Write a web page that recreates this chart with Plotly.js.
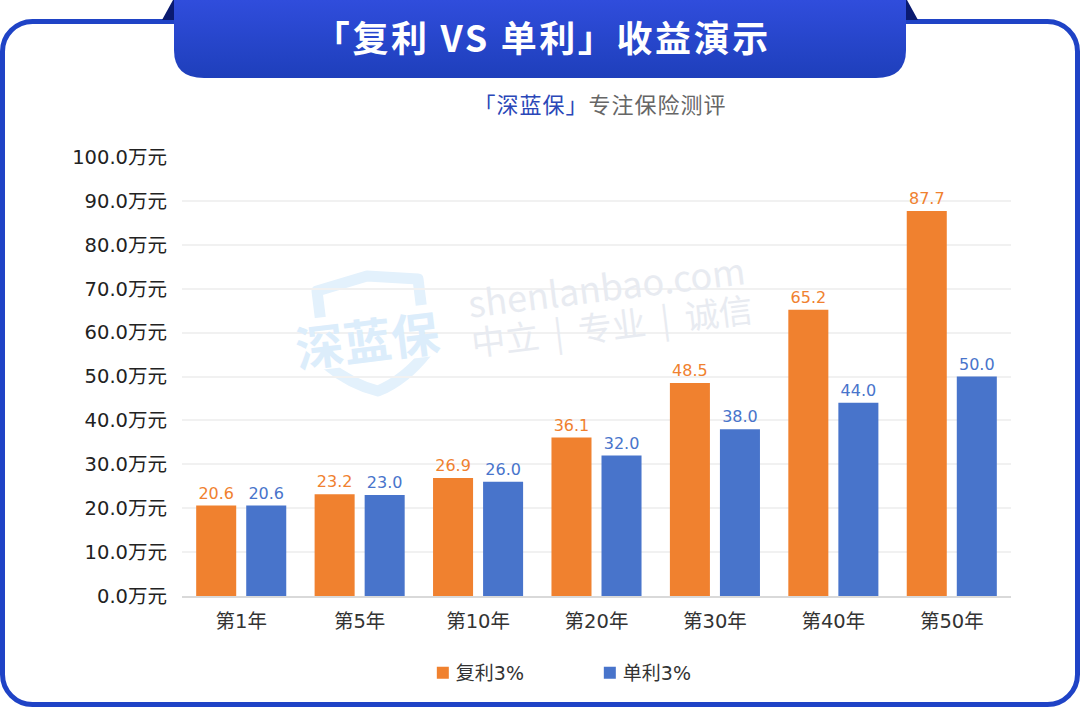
<!DOCTYPE html>
<html><head><meta charset="utf-8">
<script src="https://cdn.plot.ly/plotly-3.0.1.min.js"></script>
<style>html,body{margin:0;padding:0;background:#fff}#c{width:1080px;height:708px}
.annotation[data-index="0"] text{letter-spacing:2.6px}
.annotation[data-index="1"] text{letter-spacing:1px}
.legendtext{transform:translateX(-7px)}
</style></head>
<body><div id="c"></div>
<script>
const categories = ['第1年','第5年','第10年','第20年','第30年','第40年','第50年'];
const compound = [20.6,23.2,26.9,36.1,48.5,65.2,87.7];
const simple = [20.6,23.0,26.0,32.0,38.0,44.0,50.0];
const seriesNames = ['复利3%','单利3%'];
const FONT = '"Noto Sans CJK SC","Noto Sans",sans-serif';
const LAT = '"DejaVu Sans","Noto Sans CJK SC",sans-serif';
const ORANGE = '#f0812f', BLUE = '#4874cb';

const bg = `<svg xmlns="http://www.w3.org/2000/svg" width="1080" height="708" viewBox="0 0 1080 708">
<defs><linearGradient id="g" x1="0" y1="0" x2="0" y2="1"><stop offset="0" stop-color="#304ddc"/><stop offset="1" stop-color="#1e3fbb"/></linearGradient></defs>
<rect x="2.5" y="21.5" width="1075" height="683" rx="30" ry="30" fill="#fff" stroke="#1f43c6" stroke-width="5"/>
<path d="M162 20 L173 0 L176 0 L176 20Z M918 20 L907 0 L904 0 L904 20Z" fill="#0a1a70"/>
<path d="M174 0 H906 V50 Q906 78 876 78 H204 Q174 78 174 50Z" fill="url(#g)"/>
<path d="M367 276 L317 291 L326 364 Q350 384 378 391 Q405 380 427 352 L418 279 Z" fill="none" stroke="#e3f1fc" stroke-width="11" stroke-linejoin="round"/>
<rect x="292" y="312" width="150" height="52" fill="#fff" transform="rotate(-7 367 338)"/>
</svg>`;

const traces = [
  {type:'bar',name:seriesNames[0],x:categories,y:compound,marker:{color:ORANGE},
   texttemplate:'%{y:.1f}',textposition:'outside',cliponaxis:false,
   textfont:{color:ORANGE,size:16,family:LAT}},
  {type:'bar',name:seriesNames[1],x:categories,y:simple,marker:{color:BLUE},
   texttemplate:'%{y:.1f}',textposition:'outside',cliponaxis:false,
   textfont:{color:BLUE,size:16,family:LAT}}
];

const layout = {
  width:1080,height:708,autosize:false,
  margin:{l:182,r:69,t:157,b:112,pad:0},
  paper_bgcolor:'rgba(0,0,0,0)',plot_bgcolor:'rgba(0,0,0,0)',
  font:{family:LAT,color:'#222'},
  barmode:'group',bargap:0.155,bargroupgap:0.2,
  showlegend:true,
  legend:{orientation:'h',x:0.2905,y:-0.175,xanchor:'left',yanchor:'middle',
    font:{size:19,color:'#333',family:LAT},entrywidth:122,entrywidthmode:'pixels',
    bgcolor:'rgba(0,0,0,0)',traceorder:'normal'},
  xaxis:{type:'category',tickfont:{size:19.5,color:'#333',family:LAT},ticks:'',ticklen:0,
    showline:true,linecolor:'#d9d9d9',linewidth:2,showgrid:false,ticklabelstandoff:7,fixedrange:true},
  yaxis:{range:[0,100],dtick:10,tick0:0,tickformat:'.1f',ticksuffix:'万元',
    tickfont:{size:19.5,color:'#222',family:LAT},ticks:'',gridcolor:'#f1f1f1',gridwidth:2,
    zeroline:false,showline:false,ticklabelstandoff:14,fixedrange:true},
  images:[{source:'data:image/svg+xml;charset=utf-8,'+encodeURIComponent(bg),
    xref:'paper',yref:'paper',x:-182/829,y:(157+439)/439,sizex:1080/829,sizey:708/439,
    sizing:'stretch',xanchor:'left',yanchor:'top',layer:'below'}],
  annotations:[
    {xref:'paper',yref:'paper',x:(542-182)/829,y:(596-36)/439,xanchor:'center',yanchor:'middle',showarrow:false,
     text:'<b>「复利 VS 单利」收益演示</b>',font:{size:36,color:'#fff',family:FONT}},
    {xref:'paper',yref:'paper',x:(600-182)/829,y:(596-103)/439,xanchor:'center',yanchor:'middle',showarrow:false,
     text:'<span style="color:#2a47b8">「深蓝保」</span>专注保险测评',font:{size:22,color:'#666',family:FONT}},
    {xref:'paper',yref:'paper',x:(367-182)/829,y:(596-338)/439,xanchor:'center',yanchor:'middle',showarrow:false,textangle:-7,
     text:'<b>深蓝保</b>',font:{size:48,color:'#dcedfb',family:FONT}},
    {xref:'paper',yref:'paper',x:(606-182)/829,y:(596-285)/439,xanchor:'center',yanchor:'middle',showarrow:false,textangle:-7,
     text:'shenlanbao.com',font:{size:36,color:'#e8ebf1',family:FONT}},
    {xref:'paper',yref:'paper',x:(611-182)/829,y:(596-324)/439,xanchor:'center',yanchor:'middle',showarrow:false,textangle:-7,
     text:'中立\u00a0 | \u00a0专业\u00a0 | \u00a0诚信',font:{size:34,color:'#e8ebf1',family:FONT}}
  ]
};
Plotly.newPlot('c',traces,layout,{displayModeBar:false,staticPlot:true});
</script></body></html>
